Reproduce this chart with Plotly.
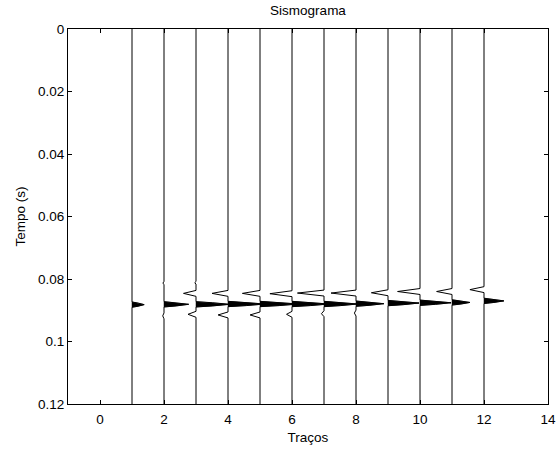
import plotly.graph_objects as go

# ---- data ----
TRACE_POS = [1, 2, 3, 4, 5, 6, 7, 8, 9, 10, 11, 12]
T_START, T_END = 0.0, 0.12
# main (positive, filled) lobe
PEAK_T = [0.0882, 0.0881, 0.0881, 0.0880, 0.0880, 0.0880, 0.0880, 0.0879, 0.0877, 0.0876, 0.0875, 0.0870]
PEAK_A = [0.38, 0.77, 1.05, 1.15, 1.20, 1.15, 1.05, 0.87, 0.97, 0.97, 0.56, 0.62]
# upper negative lobe
UP_T = [0.0846, 0.0846, 0.0846, 0.0846, 0.0846, 0.0847, 0.0845, 0.0845, 0.0844, 0.0840, 0.0840, 0.0834]
UP_A = [0.0, 0.0, -0.39, -0.50, -0.55, -0.69, -0.83, -0.78, -0.52, -0.70, -0.48, -0.44]
# lower negative lobe
LOW_T = [0.0915, 0.0918, 0.0913, 0.0915, 0.0915, 0.0913, 0.0911, 0.0909, 0.0909, 0.0909, 0.0909, 0.0905]
LOW_A = [0.0, -0.04, -0.25, -0.31, -0.31, -0.17, -0.08, -0.05, 0.0, 0.0, 0.0, 0.0]
# small precursor wiggle
PRE_T = [0.0813, 0.0813, 0.0812, 0.0812, 0.0812, 0.0812, 0.0812, 0.0812, 0.0812, 0.0812, 0.0812, 0.0812]
PRE_A = [0.0, -0.04, -0.04, 0.0, 0.0, 0.0, 0.0, 0.0, 0.0, 0.0, 0.0, 0.0]

X_TICKS = [0, 2, 4, 6, 8, 10, 12, 14]
Y_TICKS = [0, 0.02, 0.04, 0.06, 0.08, 0.1, 0.12]
Y_TICK_TEXT = ["0", "0.02", "0.04", "0.06", "0.08", "0.1", "0.12"]

TITLE = "Sismograma"
X_TITLE = "Traços"
Y_TITLE = "Tempo (s)"

# lobe half widths and shape (style)
H_MAIN = 0.00085
H_SIDE = 0.00095
H_PRE = 0.0004
MID_FRAC_T = 0.59   # time offset fraction at half amplitude

FONT = "Liberation Sans, Arial, sans-serif"
FS = 13.5

fig = go.Figure()


def lobe(tc, a, h):
    return [(tc - h, 0.0), (tc - MID_FRAC_T * h, 0.5 * a), (tc, a),
            (tc + MID_FRAC_T * h, 0.5 * a), (tc + h, 0.0)]


def side(tc, a, h):
    return [(tc - h, 0.0), (tc, a), (tc + h, 0.0)]


for i, base in enumerate(TRACE_POS):
    pts = [(T_START, 0.0)]
    if PRE_A[i] != 0:
        pts += side(PRE_T[i], PRE_A[i], H_PRE)
    if UP_A[i] != 0:
        pts += side(UP_T[i], UP_A[i], H_SIDE)
    main = lobe(PEAK_T[i], PEAK_A[i], H_MAIN)
    pts += main
    if LOW_A[i] != 0:
        pts += side(LOW_T[i], LOW_A[i], H_SIDE)
    pts.append((T_END, 0.0))

    # filled positive lobe
    fx = [base + a for t, a in main]
    fy = [t for t, a in main]
    fig.add_trace(go.Scatter(x=fx + [base], y=fy + [fy[0]], mode="lines",
                             fill="toself", fillcolor="black",
                             line=dict(color="black", width=0.5),
                             hoverinfo="skip", showlegend=False))
    # wiggle line
    fig.add_trace(go.Scatter(x=[base + a for t, a in pts], y=[t for t, a in pts],
                             mode="lines", line=dict(color="black", width=1),
                             hoverinfo="skip", showlegend=False))

axis_common = dict(showline=True, linecolor="black", linewidth=1, mirror="ticks",
                   ticks="inside", ticklen=4, tickwidth=1, tickcolor="black",
                   showgrid=False, zeroline=False, automargin=False,
                   tickfont=dict(family=FONT, size=FS, color="black"))

fig.update_layout(
    width=559, height=449,
    margin=dict(l=68, r=11, t=29, b=45),
    paper_bgcolor="white", plot_bgcolor="white",
    font=dict(family=FONT, size=FS, color="black"),
    title=dict(text=TITLE, x=(68 + 240) / 559, xref="container", xanchor="center",
               y=1 - 10 / 449, yref="container", yanchor="middle",
               font=dict(family=FONT, size=FS, color="black")),
    xaxis=dict(range=[-1, 14], tickvals=X_TICKS, ticklabelstandoff=3,
               title=dict(text=X_TITLE, standoff=6,
                          font=dict(family=FONT, size=FS, color="black")),
               **axis_common),
    yaxis=dict(range=[0.12, 0], tickvals=Y_TICKS, ticktext=Y_TICK_TEXT,
               title=dict(text=Y_TITLE, standoff=9,
                          font=dict(family=FONT, size=FS, color="black")),
               **axis_common),
)

fig.write_html("out.html", config={"displayModeBar": False},
               post_script="document.body.style.margin='0';document.body.style.overflow='hidden';")
